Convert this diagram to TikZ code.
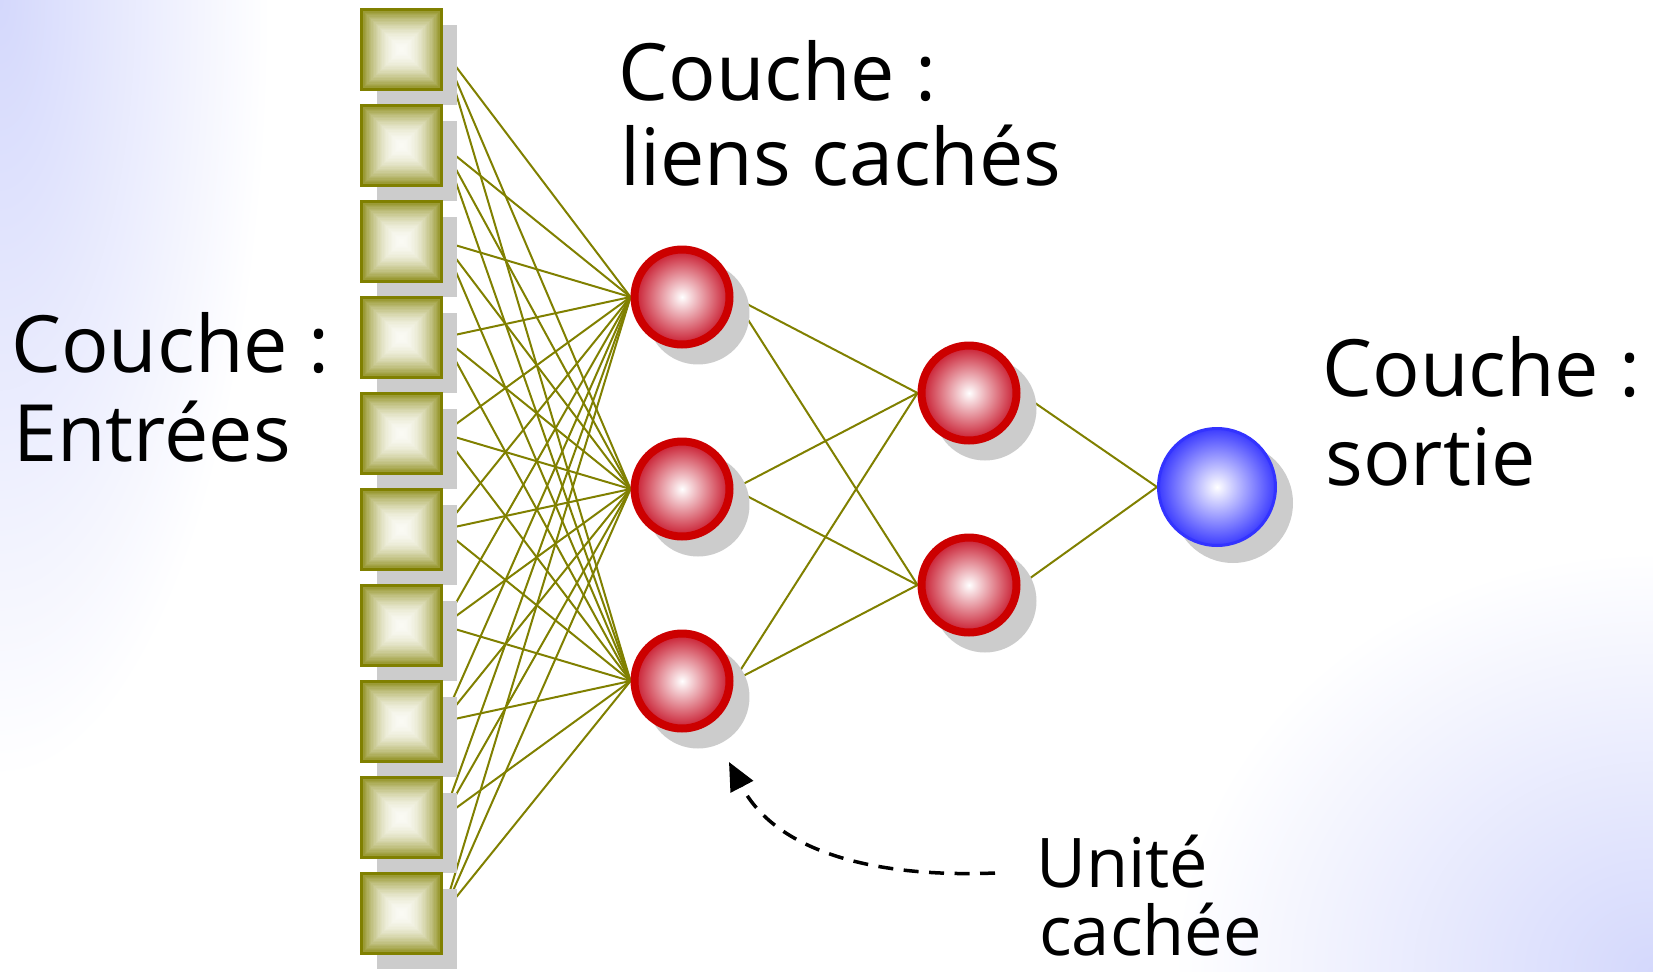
\documentclass[tikz,border=0pt]{standalone}
\usepackage{fontspec}
\setmainfont{Open Sans}
\usetikzlibrary{calc,arrows.meta}
\pgfdeclarelayer{bg}
\pgfdeclarelayer{lines}
\pgfdeclarelayer{shadows}
\pgfsetlayers{bg,lines,shadows,main}
\definecolor{olivec}{RGB}{128,128,0}
\definecolor{sqc}{RGB}{250,250,244}
\definecolor{redc}{RGB}{204,0,0}
\definecolor{redin}{RGB}{200,25,45}
\definecolor{bluec}{RGB}{51,51,255}
\definecolor{bluein}{RGB}{60,60,255}
\definecolor{shadowc}{RGB}{204,204,204}
\definecolor{cornerc}{RGB}{212,216,252}
\begin{document}
\begin{tikzpicture}[x=0.02cm,y=-0.02cm,
  inbox/.style={rectangle, minimum size=1.6cm, inner sep=0pt, draw=olivec, line width=0.06cm,
    path picture={
      \coordinate (pc) at (path picture bounding box.center);
      \foreach \k in {0,...,29}{
        \pgfmathsetmacro\hs{0.82*(1-\k/30)}
        \pgfmathsetmacro\ds{2*\hs}
        \pgfmathsetmacro\pcv{90*(1-\k/30)^2.1}
        \fill[olivec!\pcv!sqc] ($(pc)+(-\hs cm,\hs cm)$) rectangle ++(\ds cm,-\ds cm);
      }
    }},
  hid/.style={circle, minimum size=1.9cm, inner sep=0pt, draw=redc, line width=0.16cm,
    inner color=white, outer color=redin},
  outn/.style={circle, minimum size=2.34cm, inner sep=0pt, draw=bluec, line width=0.06cm,
    inner color=white, outer color=bluein},
  link/.style={draw=olivec, line width=0.04cm},
  shad/.style={fill=shadowc},
  lbl/.style={anchor=base west, inner sep=0pt, font=\fontsize{45pt}{54pt}\selectfont},
  lbls/.style={anchor=base west, inner sep=0pt, font=\fontsize{39pt}{47pt}\selectfont},
  pointer/.style={draw=black, line width=0.07cm, dash pattern=on 0.3cm off 0.21cm,
    -{Triangle[length=0.56cm,width=0.5cm]}}
]
\useasboundingbox (0,0) rectangle (1653,971);
\clip (0,0) rectangle (1653,971);

% input squares
\foreach \i in {1,...,10}{
  \node[inbox] (s\i) at (401.5,{49.5+96*(\i-1)}) {};
}
% hidden layers
\node[hid] (h1) at (682,297) {};
\node[hid] (h2) at (682,489) {};
\node[hid] (h3) at (682,681) {};
\node[hid] (g1) at (969,393) {};
\node[hid] (g2) at (969,585) {};
% output
\node[outn] (o) at (1217,487) {};

% labels
\node[lbl] (t1a) at (618,100) {Couche :};
\node[lbl] (t1b) at (620,185) {liens cachés};
\node[lbl] (t2a) at (11,372) {Couche :};
\node[lbl] (t2b) at (13,461) {Entrées};
\node[lbl] (t3a) at (1322,396) {Couche :};
\node[lbl] (t3b) at (1325,485) {sortie};
\node[lbls] (t4a) at (1036,887) {Unité};
\node[lbls] (t4b) at (1039,955) {cachée};

% pointer arrow
\coordinate (arrs) at (995,873);
\coordinate (arre) at (729,762);
\draw[pointer] (arrs) .. controls (870,878) and (775,850) .. (arre);

% shadows
\begin{pgfonlayer}{shadows}
\foreach \i in {1,...,10}{
  \fill[shad] ($(s\i.center)+(-24.5,-24.5)$) rectangle ($(s\i.center)+(55.5,55.5)$);
}
\foreach \n in {h1,h2,h3,g1,g2}{
  \fill[shad] ($(\n.center)+(16,16)$) circle (1.03cm);
}
\fill[shad] ($(o.center)+(16,16)$) circle (1.2cm);
\end{pgfonlayer}

% background corners and connections
\begin{pgfonlayer}{bg}
\clip (0,0) rectangle (1653,971);
\shade[inner color=cornerc, outer color=white] (0,0) ellipse (270 and 780);
\shade[inner color=cornerc, outer color=white] (1653,971) ellipse (480 and 420);
\end{pgfonlayer}
\begin{pgfonlayer}{lines}
\foreach \i in {1,...,10}{
  \foreach \j in {1,2,3}{
    \draw[link] (s\i.east) -- (h\j.west);
  }
}
\foreach \j in {1,2,3}{
  \foreach \k in {1,2}{
    \draw[link] (h\j.east) -- (g\k.west);
  }
}
\foreach \k in {1,2}{
  \draw[link] (g\k.east) -- (o.west);
}
\end{pgfonlayer}
\end{tikzpicture}
\end{document}
